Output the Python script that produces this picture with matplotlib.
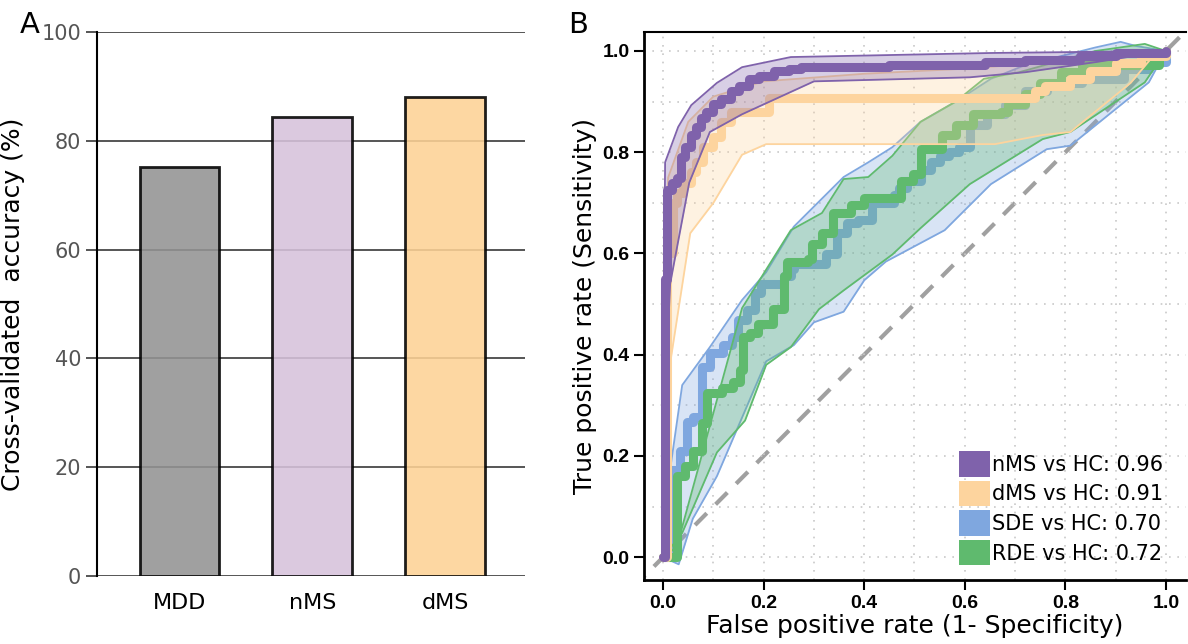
import matplotlib
matplotlib.use('Agg')
import matplotlib.pyplot as plt
import matplotlib.patches as mpatches
import numpy as np

# ---- panel A data ----
groups = ['MDD', 'nMS', 'dMS']
accuracy = [75.2, 84.4, 88.1]
bar_colors = ['#939393', '#d6c2db', '#fdd295']

# ---- panel B data: mean ROC (step) curves ----
nms_x = [0, 0.003, 0.007, 0.017, 0.027, 0.035, 0.044, 0.055, 0.065, 0.075, 0.085, 0.1, 0.115, 0.135,
         0.15, 0.17, 0.19, 0.22, 0.25, 0.275, 0.45, 0.64, 0.72, 0.83, 0.9, 1.0]
nms_y = [0, 0.55, 0.725, 0.74, 0.75, 0.79, 0.81, 0.835, 0.85, 0.868, 0.88, 0.895, 0.905, 0.92,
         0.93, 0.945, 0.95, 0.96, 0.965, 0.968, 0.972, 0.978, 0.982, 0.99, 0.996, 1.0]
dms_x = [0, 0.008, 0.02, 0.028, 0.04, 0.055, 0.066, 0.08, 0.1, 0.115, 0.135, 0.21, 0.74, 0.76, 0.81,
         0.85, 0.9, 0.95, 1.0]
dms_y = [0, 0.6, 0.70, 0.72, 0.74, 0.76, 0.78, 0.81, 0.83, 0.86, 0.88, 0.907, 0.92, 0.93, 0.945,
         0.96, 0.976, 0.99, 1.0]
sde_x = [0, 0.017, 0.034, 0.047, 0.06, 0.077, 0.093, 0.119, 0.137, 0.149, 0.166, 0.183, 0.195, 0.24,
         0.254, 0.26, 0.324, 0.345, 0.366, 0.387, 0.415, 0.429, 0.46, 0.47, 0.485, 0.512, 0.533, 0.55,
         0.568, 0.589, 0.61, 0.644, 0.68, 0.72, 0.763, 0.833, 0.917, 0.966, 1.0]
sde_y = [0, 0.172, 0.21, 0.267, 0.277, 0.376, 0.403, 0.419, 0.435, 0.468, 0.488, 0.521, 0.54, 0.556,
         0.57, 0.58, 0.598, 0.64, 0.66, 0.667, 0.70, 0.70, 0.716, 0.73, 0.743, 0.765, 0.78, 0.793,
         0.80, 0.81, 0.854, 0.875, 0.893, 0.92, 0.937, 0.945, 0.965, 0.979, 1.0]
rde_x = [0, 0.027, 0.044, 0.06, 0.077, 0.087, 0.117, 0.14, 0.153, 0.159, 0.173, 0.189, 0.219, 0.24,
         0.247, 0.288, 0.296, 0.316, 0.338, 0.373, 0.40, 0.473, 0.498, 0.512, 0.547, 0.554, 0.582,
         0.617, 0.672, 0.686, 0.72, 0.749, 0.791, 0.833, 0.986, 1.0]
rde_y = [0, 0.16, 0.18, 0.21, 0.265, 0.324, 0.334, 0.347, 0.37, 0.435, 0.443, 0.46, 0.49, 0.556,
         0.584, 0.59, 0.618, 0.64, 0.68, 0.695, 0.71, 0.743, 0.757, 0.806, 0.806, 0.834, 0.854,
         0.875, 0.88, 0.895, 0.915, 0.937, 0.958, 0.972, 0.993, 1.0]

# ---- panel B data: band edges ----
nms_up_x = [0, 0.002, 0.004, 0.03, 0.056, 0.107, 0.157, 0.254, 0.65, 1.0]
nms_up_y = [0, 0.55, 0.78, 0.85, 0.893, 0.937, 0.968, 0.988, 0.996, 1.0]
nms_lo_x = [0, 0.01, 0.014, 0.052, 0.093, 0.157, 0.30, 0.61, 0.72, 0.86, 1.0]
nms_lo_y = [0, 0.45, 0.54, 0.74, 0.84, 0.875, 0.94, 0.948, 0.958, 0.978, 1.0]
dms_up_x = [0, 0.004, 0.01, 0.05, 0.1, 0.2, 0.4, 0.6, 0.8, 1.0]
dms_up_y = [0, 0.6, 0.75, 0.86, 0.91, 0.94, 0.955, 0.965, 0.98, 1.0]
dms_lo_x = [0, 0.008, 0.012, 0.054, 0.10, 0.157, 0.205, 0.66, 0.755, 0.81, 0.93, 0.968, 1.0]
dms_lo_y = [0, 0.3, 0.37, 0.64, 0.70, 0.795, 0.816, 0.816, 0.834, 0.84, 0.937, 0.982, 1.0]
sde_up_x = [0, 0.014, 0.038, 0.093, 0.157, 0.205, 0.26, 0.359, 0.408, 0.456, 0.512, 0.582, 0.652,
            0.72, 0.86, 0.91, 0.94, 1.0]
sde_up_y = [0, 0.173, 0.34, 0.415, 0.508, 0.563, 0.653, 0.751, 0.78, 0.81, 0.86, 0.90, 0.945,
            0.972, 1.007, 1.018, 1.01, 1.0]
sde_lo_x = [0, 0.031, 0.059, 0.107, 0.205, 0.26, 0.30, 0.359, 0.40, 0.443, 0.56, 0.652, 0.763,
            0.81, 0.896, 0.966, 1.0]
sde_lo_y = [0, -0.014, 0.076, 0.16, 0.387, 0.419, 0.464, 0.485, 0.547, 0.584, 0.646, 0.737, 0.806,
            0.813, 0.882, 0.938, 1.0]
rde_up_x = [0, 0.027, 0.073, 0.157, 0.254, 0.316, 0.359, 0.408, 0.456, 0.512, 0.582, 0.638, 0.708,
            0.86, 0.958, 1.0]
rde_up_y = [0, 0.02, 0.187, 0.492, 0.646, 0.68, 0.747, 0.751, 0.793, 0.86, 0.90, 0.945, 0.958,
            1.0, 1.014, 1.0]
rde_lo_x = [0, 0.038, 0.107, 0.163, 0.205, 0.254, 0.31, 0.359, 0.456, 0.512, 0.61, 0.755, 0.81,
            0.958, 1.0]
rde_lo_y = [0, 0.048, 0.207, 0.27, 0.38, 0.415, 0.49, 0.527, 0.598, 0.65, 0.737, 0.826, 0.84,
            0.938, 1.0]

labels = ['nMS vs HC: 0.96', 'dMS vs HC: 0.91', 'SDE vs HC: 0.70', 'RDE vs HC: 0.72']
purple = '#7f62ab'
orange = '#fdd49e'
blue = '#7fa7df'
green = '#5fba6e'

fig = plt.figure(figsize=(11.88, 6.44), dpi=100)

# ================= Panel A =================
ax1 = fig.add_axes([97/1188, 1-576/644, (525-97)/1188, (576-32)/644])
ax1.set_axisbelow(True)
ax1.yaxis.grid(True, color='#555555', linewidth=1.4)
ax1.bar(range(3), accuracy, width=0.6, color=bar_colors, edgecolor='black', linewidth=2, alpha=0.88)
ax1.set_xlim(-0.62, 2.6)
ax1.set_ylim(0, 100)
ax1.set_yticks([0, 20, 40, 60, 80, 100])
ax1.set_xticks(range(3))
ax1.set_xticklabels(groups, fontsize=16)
for s in ['top', 'right', 'bottom']:
    ax1.spines[s].set_visible(False)
ax1.spines['left'].set_linewidth(1.5)
ax1.tick_params(axis='y', labelsize=15, labelcolor='#555555', color='#555555', length=8, width=1.4)
ax1.tick_params(axis='x', length=0, pad=12)
ax1.set_ylabel('Cross-validated  accuracy (%)', fontsize=18, labelpad=12)
fig.text(20/1188, 1-25/644, 'A', fontsize=21, va='center', ha='left')

# ================= Panel B =================
ax2 = fig.add_axes([644/1188, 1-580/644, (1186-644)/1188, (580-32)/644])
ax2.set_xlim(-0.038, 1.04)
ax2.set_ylim(-0.045, 1.0375)
ax2.set_xticks(np.arange(0, 1.01, 0.2))
ax2.set_yticks(np.arange(0, 1.01, 0.2))
ax2.set_xticks(np.arange(0.1, 1.01, 0.2), minor=True)
ax2.set_yticks(np.arange(0.1, 1.01, 0.2), minor=True)
ax2.grid(True, which='both', color='#c8c8c8', linestyle=(0, (1, 4)), linewidth=1.2)
ax2.tick_params(which='minor', length=0)
ax2.tick_params(which='major', length=7, width=1.5, labelsize=14)
for lab in ax2.get_xticklabels() + ax2.get_yticklabels():
    lab.set_fontweight('bold')
    lab.set_family('Liberation Sans')
ax2.spines['right'].set_visible(False)
for s in ['left', 'bottom']:
    ax2.spines[s].set_linewidth(2)
ax2.spines['top'].set_linewidth(1.5)

ax2.plot([-0.1, 1.1], [-0.1, 1.1], color='#a0a0a0', linestyle=(0, (4, 3)), linewidth=3, zorder=1)

series = [
    (sde_x, sde_y, sde_up_x, sde_up_y, sde_lo_x, sde_lo_y, blue),
    (rde_x, rde_y, rde_up_x, rde_up_y, rde_lo_x, rde_lo_y, green),
    (dms_x, dms_y, dms_up_x, dms_up_y, dms_lo_x, dms_lo_y, orange),
    (nms_x, nms_y, nms_up_x, nms_up_y, nms_lo_x, nms_lo_y, purple),
]
grid_x = np.linspace(0, 1, 801)
z = 2
for mx, my, ux, uy, lx, ly, c in series:
    up = np.interp(grid_x, ux, uy)
    lo = np.interp(grid_x, lx, ly)
    ax2.fill_between(grid_x, lo, up, color=c, alpha=0.3, linewidth=0, zorder=z)
    ax2.plot(ux, uy, color=c, linewidth=1.3, zorder=z + 0.1)
    ax2.plot(lx, ly, color=c, linewidth=1.3, zorder=z + 0.1)
    ax2.plot(mx, my, color=c, linewidth=6.5, drawstyle='steps-post', zorder=z + 0.2,
             solid_capstyle='round')
    z += 1

handles = [mpatches.Patch(facecolor=c, edgecolor='none') for c in [purple, orange, blue, green]]
ax2.legend(handles, labels, loc='lower right', bbox_to_anchor=(0.985, 0.0), frameon=False,
           fontsize=15, handlelength=1.5, handleheight=1.5, handletextpad=0.1,
           labelspacing=0.2, borderaxespad=0.3)

ax2.set_xlabel('False positive rate (1- Specificity)', fontsize=18, labelpad=2)
ax2.set_ylabel('True positive rate (Sensitivity)', fontsize=18, labelpad=4)
fig.text(568/1188, 1-25/644, 'B', fontsize=21, va='center', ha='left')

fig.savefig('out.png', dpi=100)
